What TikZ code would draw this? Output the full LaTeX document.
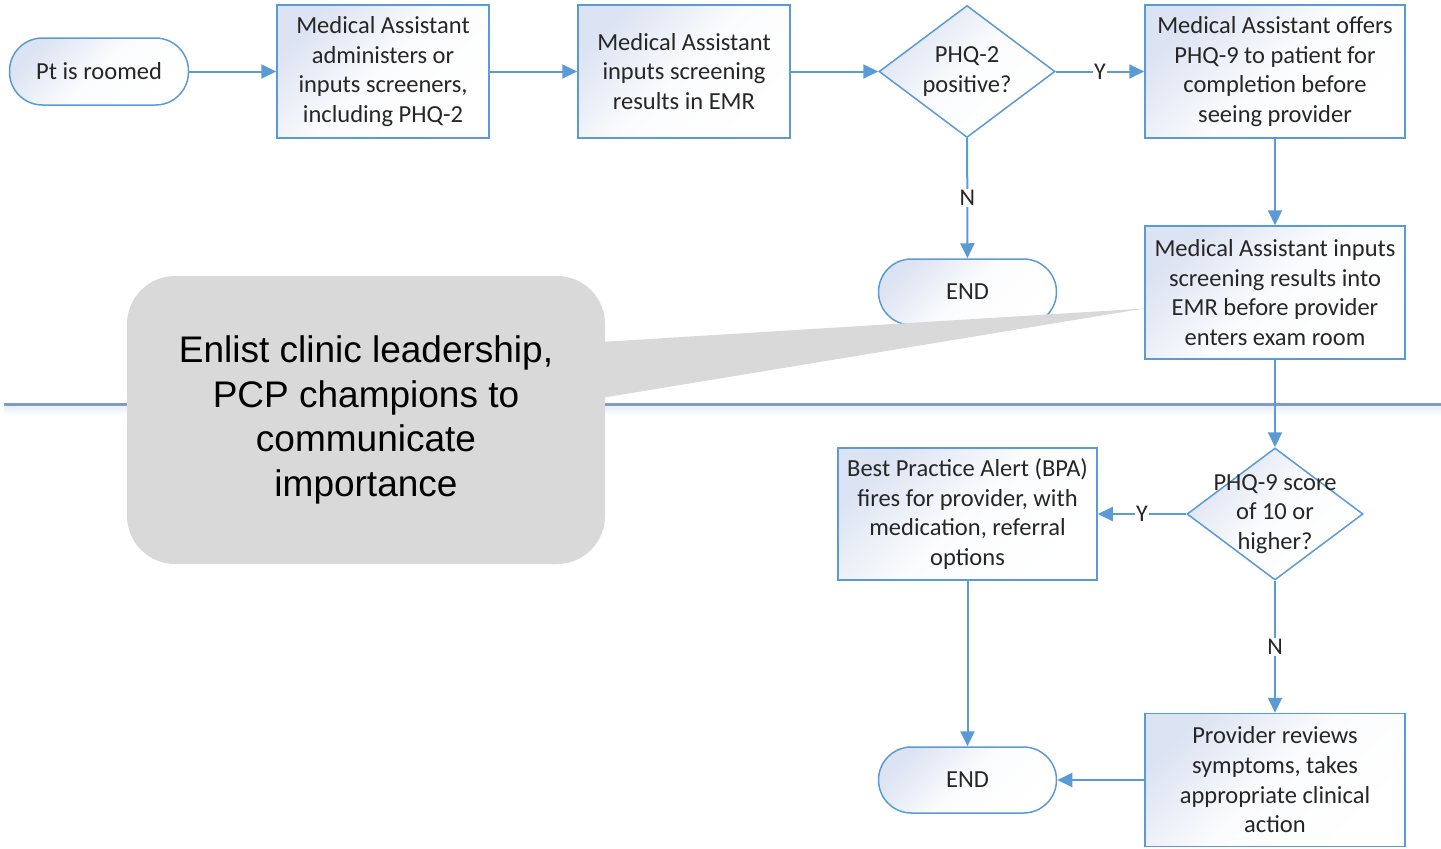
\documentclass[tikz,border=0pt]{standalone}
\usepackage{fontspec}
\setmainfont{Carlito}
\newfontfamily\calloutfont{Liberation Sans}
\usetikzlibrary{arrows.meta,shapes.geometric,positioning,calc}
\definecolor{flowblue}{HTML}{5B9BD5}
\definecolor{boxshade}{HTML}{DCE3F2}
\definecolor{inktext}{HTML}{262626}
\definecolor{lanerule}{HTML}{7F9CC2}
\definecolor{lanefade}{HTML}{E6EDF7}
\definecolor{calloutgray}{HTML}{D9D9D9}

\begin{document}
\begin{tikzpicture}[x=1pt,y=-1pt,
  every node/.style={font=\fontsize{24.5}{29.7}\selectfont, text=inktext, align=center},
  shaded/.style={top color=boxshade, bottom color=white, middle color=white!90!boxshade, shading angle=45},
  process/.style={draw=flowblue, line width=1.5pt, shaded, minimum width=212pt, minimum height=133pt, inner sep=0pt},
  decision/.style={diamond, draw=flowblue, line width=1.5pt, shaded, minimum width=176pt, minimum height=132pt, inner sep=0pt},
  terminal/.style={draw=flowblue, line width=1.5pt, shaded, rounded corners=33pt, minimum width=178pt, minimum height=66pt},
  flow/.style={draw=flowblue, line width=2pt, -{Triangle[length=15pt,width=14pt]}},
  lbl/.style={fill=white, inner sep=1.5pt, font=\fontsize{24}{26}\selectfont},
  callout box/.style={fill=calloutgray, rounded corners=48pt, minimum width=478pt, minimum height=288pt,
    text=black, font=\calloutfont\fontsize{37}{44.5}\selectfont}]
  \useasboundingbox (0,0) rectangle (1441,849);

  \fill[top color=lanefade, bottom color=white] (4,405) rectangle (1441,415);
  \draw[lanerule, line width=3pt] (4,404) -- (1441,404);

  \node[terminal, minimum width=179pt, minimum height=67pt] (roomed) at (99,71.5) {Pt is roomed};
  \node[process] (administer) at (383,71.5) {Medical Assistant\\administers or\\inputs screeners,\\including PHQ-2};
  \node[process] (inputemr) at (684,71.5) {Medical Assistant\\inputs screening\\results in EMR};
  \node[decision] (phqtwo) at (967,71.5) {};
  \node (phqtwotxt) at (phqtwo) {PHQ-2\\positive?};
  \node[process, minimum width=260pt] (offer) at (1275,71.5) {Medical Assistant offers\\PHQ-9 to patient for\\completion before\\seeing provider};

  \node[terminal] (endtop) at (967.5,292) {END};
  \node[process, minimum width=260pt] (inputs) at (1275,292.5) {Medical Assistant inputs\\screening results into\\EMR before provider\\enters exam room};

  \node[decision] (phqnine) at (1275,514) {};
  \node (phqninetxt) at (phqnine) {PHQ-9 score\\of 10 or\\higher?};
  \node[process, minimum width=259pt, minimum height=132pt] (bpa) at (967.5,514) {Best Practice Alert (BPA)\\fires for provider, with\\medication, referral\\options};

  \node[terminal] (endbottom) at (967.5,780) {END};
  \node[process, minimum width=260pt] (review) at (1275,780) {Provider reviews\\symptoms, takes\\appropriate clinical\\action};

  \draw[flow] (roomed) -- (administer);
  \draw[flow] (administer) -- (inputemr);
  \draw[flow] (inputemr) -- (phqtwo);
  \draw[flow] (phqtwo) -- node[lbl] (yestop) {Y} (offer);
  \draw[flow] (phqtwo) -- node[lbl] (notop) {N} (endtop);
  \draw[flow] (offer) -- (inputs);
  \draw[flow] (inputs) -- (phqnine);
  \draw[flow] (phqnine) -- node[lbl] (yesbottom) {Y} (bpa);
  \draw[flow] (phqnine) -- node[lbl] (nobottom) {N} (review);
  \draw[flow] (bpa) -- (endbottom);
  \draw[flow] (review) -- (endbottom);

  \node[callout box] (enlist) at (366,420) {Enlist clinic leadership,\\PCP champions to\\communicate\\importance};
  \coordinate (calltip) at ($(inputs.west)+(0,16)$);
  \fill[calloutgray] ($(enlist.east)+(-4,-78)$) -- (calltip) -- ($(enlist.east)+(-4,-22)$) -- cycle;
\end{tikzpicture}
\end{document}
